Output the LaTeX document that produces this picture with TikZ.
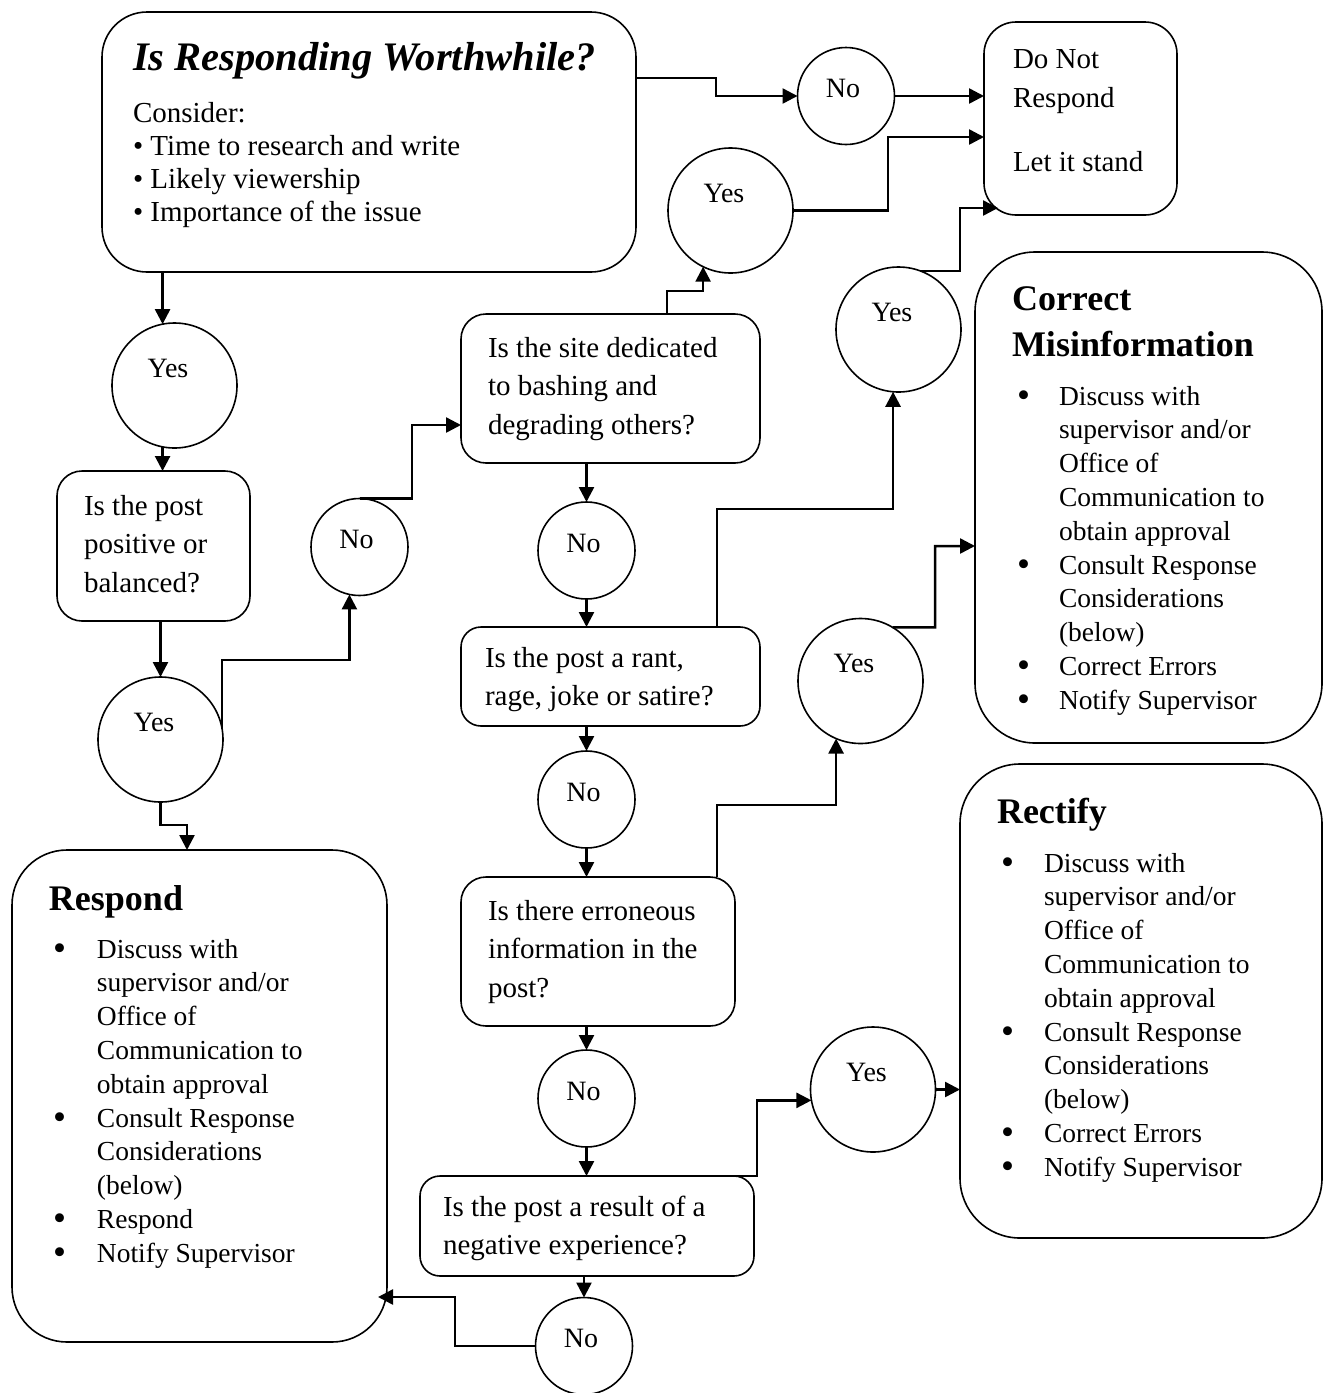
\documentclass[tikz,border=0pt]{standalone}
\usepackage{fontspec}
\usepackage{graphicx}
\setmainfont{Liberation Serif}
\usetikzlibrary{arrows.meta,calc}
\newcommand{\bxc}[5]{\parbox[c][#2][t]{#1}{\raggedright\setlength{\leftskip}{#3}\leavevmode\rule{0pt}{#4}#5}}
\newcommand{\bul}[1]{\leavevmode\llap{\makebox[#1][l]{\raisebox{-2.5pt}{\scalebox{1.35}{\textbullet}}}}}
\newcommand{\qfont}{\fontsize{29}{38.5}\selectfont}
\newcommand{\lfont}{\fontsize{27.5}{33.8}\selectfont}
\newcommand{\hfont}{\fontsize{36}{40}\selectfont\bfseries}
\begin{document}
\begin{tikzpicture}[x=1pt,y=-1pt,
  box/.style={draw, line width=1.6pt, inner sep=0pt, outer sep=0pt},
  rnd/.style={circle, draw, line width=1.6pt, inner sep=0pt, outer sep=0pt, font=\fontsize{28}{30}\selectfont},
  yesc/.style={rnd, minimum size=125pt, text height=0pt, text depth=17pt},
  noc/.style={rnd, minimum size=97pt, text height=3pt, text depth=0pt},
  conn/.style={line width=2.5pt, -{Triangle[length=15pt,width=15pt]}}]
\useasboundingbox[fill=white] (0,0) rectangle (1324,1393);

% boxes
\node[box, rounded corners=45pt] (top) at (369,142) {\bxc{534pt}{260pt}{31pt}{58pt}{\fontsize{29}{33}\selectfont{\fontsize{40.5}{44}\selectfont\bfseries\itshape Is Responding Worthwhile?}\\[19pt]Consider:\\\textbullet\ Time to research and write\\\textbullet\ Likely viewership\\\textbullet\ Importance of the issue}};
\node[box, rounded corners=32pt] (dnr) at (1080.5,118.5) {\bxc{193pt}{193pt}{29pt}{46pt}{\fontsize{29}{39}\selectfont Do Not\\Respond\\[25pt]Let it stand}};
\node[box, rounded corners=25pt] (pos) at (153.5,546) {\bxc{193pt}{150pt}{27pt}{44pt}{\qfont Is the post\\positive or\\balanced?}};
\node[box, rounded corners=25pt] (site) at (610.5,388.5) {\bxc{299pt}{149pt}{27pt}{43pt}{\qfont Is the site dedicated\\to bashing and\\degrading others?}};
\node[box, rounded corners=20pt] (rant) at (610.5,676.5) {\bxc{299pt}{99pt}{24pt}{40pt}{\qfont Is the post a rant,\\rage, joke or satire?}};
\node[box, rounded corners=25pt] (err) at (598,951.5) {\bxc{274pt}{149pt}{27pt}{43pt}{\qfont Is there erroneous\\information in the\\post?}};
\node[box, rounded corners=20pt] (neg) at (587,1226) {\bxc{334pt}{100pt}{23pt}{40pt}{\qfont Is the post a result of a\\negative experience?}};
\node[box, rounded corners=55pt] (respond) at (199.5,1096) {\bxc{375pt}{492pt}{85pt}{60pt}{\lfont\hspace*{-48pt}{\hfont Respond}\\[14.2pt]\bul{44pt}Discuss with\\supervisor and/or\\Office of\\Communication to\\obtain approval\\\bul{44pt}Consult Response\\Considerations\\(below)\\\bul{44pt}Respond\\\bul{44pt}Notify Supervisor}};
\node[box, rounded corners=60pt] (correct) at (1148.5,497.5) {\bxc{347pt}{491pt}{84pt}{58pt}{\lfont\hspace*{-47pt}{\hfont Correct}\\[12.2pt]\hspace*{-47pt}{\hfont Misinformation}\\[15.2pt]\bul{42pt}Discuss with\\supervisor and/or\\Office of\\Communication to\\obtain approval\\\bul{42pt}Consult Response\\Considerations\\(below)\\\bul{42pt}Correct Errors\\\bul{42pt}Notify Supervisor}};
\node[box, rounded corners=60pt] (rectify) at (1141,1001) {\bxc{362pt}{474pt}{84pt}{59pt}{\lfont\hspace*{-47pt}{\hfont Rectify}\\[15.2pt]\bul{43pt}Discuss with\\supervisor and/or\\Office of\\Communication to\\obtain approval\\\bul{43pt}Consult Response\\Considerations\\(below)\\\bul{43pt}Correct Errors\\\bul{43pt}Notify Supervisor}};

% circles
\node[noc] (cNo1) at (846,96) {\hspace*{-6pt}No};
\node[yesc] (cYes1) at (730.5,210.5) {\hspace*{-13pt}Yes};
\node[yesc] (cYes2) at (898.5,329.5) {\hspace*{-13pt}Yes};
\node[yesc] (cYesA) at (174.5,385.5) {\hspace*{-13pt}Yes};
\node[noc] (cNoB) at (359.5,547) {\hspace*{-6pt}No};
\node[yesc] (cYesB) at (160.5,739.5) {\hspace*{-13pt}Yes};
\node[noc] (cNoC) at (586.5,550.5) {\hspace*{-6pt}No};
\node[noc] (cNoD) at (586.5,799.5) {\hspace*{-6pt}No};
\node[noc] (cNoE) at (586.5,1098.5) {\hspace*{-6pt}No};
\node[noc] (cNoF) at (584,1346) {\hspace*{-6pt}No};
\node[yesc] (cYesC) at (860.5,681) {\hspace*{-13pt}Yes};
\node[yesc] (cYesD) at (873,1089.5) {\hspace*{-13pt}Yes};

% connectors
\draw[conn] (top.east |- 0,78) -- (716,78) -- (716,96) -- (cNo1.west);
\draw[conn] (cNo1.east) -- (dnr.west |- cNo1.east);
\draw[conn] (cYes1.east) -- (888,210.5) -- (888,137) -- (dnr.west |- 0,137);
\draw[conn] (cYes2.69) -| (960,208) -- ($(dnr.west |- 0,208)+(14,0)$);
\draw[conn] (site.north -| 667,0) -- (667,291) -| (cYes1.244);
\draw[conn] (top.south -| cYesA.101) -- (cYesA.101);
\draw[conn] (cYesA.259) -- (cYesA.259 |- pos.north);
\draw[conn] (pos.south -| cYesB.north) -- (cYesB.north);
\draw[conn] (cYesB.11) |- (cNoB.258 |- 0,660) -- (cNoB.258);
\draw[conn] (cYesB.south) -- (cYesB.south |- 0,825) -- (187,825) -- (respond.north -| 187,0);
\draw[conn] (cNoB.north) -- (412,498.5) -- (412,425) -- (site.west |- 0,425);
\draw[conn] (site.south -| cNoC.north) -- (cNoC.north);
\draw[conn] (cNoC.south) -- (cNoC.south |- rant.north);
\draw[conn] (rant.north -| 717,0) -- (717,509) -| (cYes2.265);
\draw[conn] (rant.south -| cNoD.north) -- (cNoD.north);
\draw[conn] (cNoD.south) -- (cNoD.south |- err.north);
\draw[conn] (err.north -| 717,0) -- (717,805) -| (cYesC.247);
\draw[conn] (cYesC.59) -- (935,627.4) -- (935,546) -- (correct.west |- 0,546);
\draw[conn] (err.south -| cNoE.north) -- (cNoE.north);
\draw[conn] (cNoE.south) -- (cNoE.south |- neg.north);
\draw[conn] (neg.north -| 703,0) -- (neg.north -| 757,0) |- (cYesD.190);
\draw[conn] (cYesD.east) -- (rectify.west |- cYesD.east);
\draw[conn] (neg.south -| cNoF.north) -- (cNoF.north);
\draw[conn] (cNoF.west) -- (455,1346) -- (455,1297) -- ($(respond.east |- 0,1297)+(-9,0)$);
\end{tikzpicture}
\end{document}
